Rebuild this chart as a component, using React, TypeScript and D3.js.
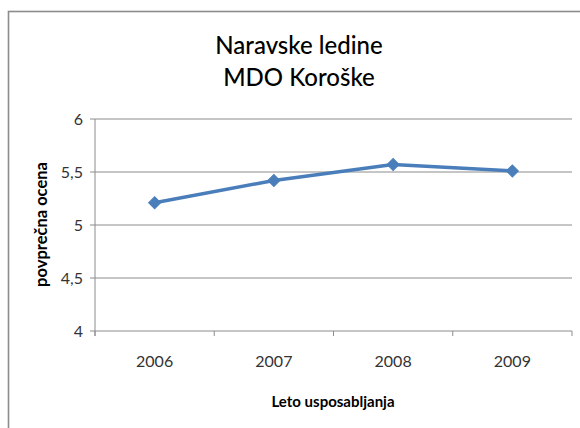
import React from "react";
import * as d3 from "d3";

const categories = ["2006", "2007", "2008", "2009"];
const values = [5.21, 5.42, 5.57, 5.51];
const yTicks = [4, 4.5, 5, 5.5, 6];
const titleLines = ["Naravske ledine", "MDO Koroške"];
const xTitle = "Leto usposabljanja";
const yTitle = "povprečna ocena";

const W = 580;
const H = 428;
const plot = { left: 95, right: 572, top: 119, bottom: 331 };
const FONT = "Lato, 'Open Sans', sans-serif";
const fmt = (v: number) => String(v).replace(".", ",");

export default function App() {
  const x = d3
    .scaleBand<string>()
    .domain(categories)
    .range([plot.left, plot.right])
    .paddingInner(0)
    .paddingOuter(0);
  const y = d3.scaleLinear().domain([4, 6]).range([plot.bottom, plot.top]);
  const cx = (c: string) => (x(c) as number) + x.bandwidth() / 2;
  const line = d3
    .line<number>()
    .x((_, i) => cx(categories[i]))
    .y((d) => y(d));
  const marker = d3.symbol().type(d3.symbolSquare).size(72)() as string;
  const boundaries = categories.map((c) => x(c) as number).concat([plot.right]);

  return (
    <svg
      width={W}
      height={H}
      style={{ position: "absolute", left: 0, top: 0, background: "#fff" }}
      fontFamily={FONT}
    >
      <rect x={8.5} y={11.5} width={640} height={500} fill="#fff" stroke="#8c8c8c" strokeWidth={1.6} />
      {titleLines.map((t, i) => (
        <text key={t} x={299} y={54 + i * 32} textAnchor="middle" fontSize={24} fontWeight={500} fill="#000">
          {t}
        </text>
      ))}
      {yTicks.map((t) => (
        <g key={t}>
          <line x1={plot.left - 5} x2={plot.right} y1={y(t)} y2={y(t)} stroke="#8c8c8c" strokeWidth={1} />
          <text x={83} y={y(t)} dy="0.35em" textAnchor="end" fontSize={16} fill="#333">
            {fmt(t)}
          </text>
        </g>
      ))}
      <line x1={plot.left} x2={plot.left} y1={plot.top} y2={plot.bottom + 5} stroke="#8c8c8c" strokeWidth={1} />
      {boundaries.map((b, i) => (
        <line key={i} x1={b} x2={b} y1={plot.bottom} y2={plot.bottom + 5} stroke="#8c8c8c" strokeWidth={1} />
      ))}
      {categories.map((c) => (
        <text key={c} x={cx(c)} y={367} textAnchor="middle" fontSize={16} fill="#333">
          {c}
        </text>
      ))}
      <text x={333} y={407} textAnchor="middle" fontSize={15} fontWeight="bold" fill="#000">
        {xTitle}
      </text>
      <text
        transform={`translate(47, ${224.5}) rotate(-90)`}
        textAnchor="middle"
        fontSize={16.5}
        fontWeight="bold"
        fill="#000"
      >
        {yTitle}
      </text>
      <path d={line(values) as string} fill="none" stroke="#4a7ebb" strokeWidth={3.5} strokeLinejoin="round" />
      {values.map((v, i) => (
        <path
          key={i}
          d={marker}
          transform={`translate(${cx(categories[i])},${y(v)}) rotate(45)`}
          fill="#4a7ebb"
          stroke="#4a7ebb"
          strokeWidth={1}
        />
      ))}
    </svg>
  );
}
